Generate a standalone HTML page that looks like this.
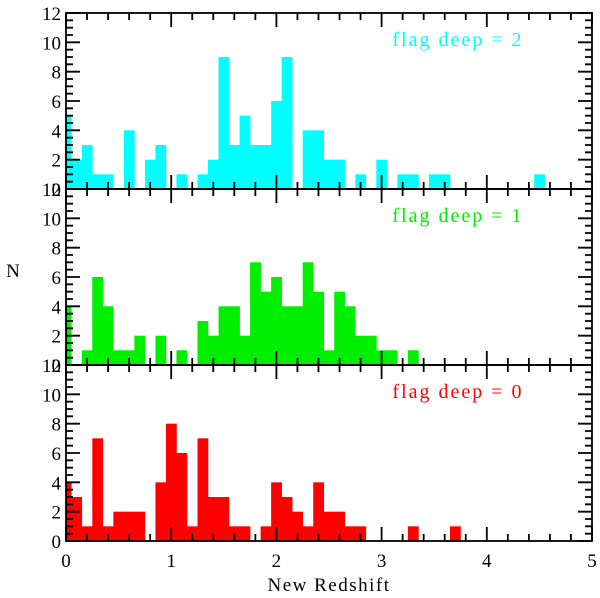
<!DOCTYPE html>
<html><head><meta charset="utf-8"><style>
html,body{margin:0;padding:0;background:#fff;}
svg{display:block;font-family:"Liberation Serif",serif;}
</style></head><body>
<svg id="chart" width="600" height="598" viewBox="0 0 600 598" xmlns="http://www.w3.org/2000/svg"></svg>
<script>
// bin centers at 0.0,0.1,...; bin width 0.1
const binWidth = 0.1;
const countsDeep2 = [5,2,3,1,1,0,4,0,2,3,0,1,0,1,2,9,3,5,3,3,6,9,0,4,4,2,2,0,1,0,2,0,1,1,0,1,1,0,0,0,0,0,0,0,0,1];
const countsDeep1 = [4,0,1,6,4,1,1,2,0,2,0,1,0,3,2,4,4,2,7,5,6,4,4,7,5,1,5,4,2,2,1,1,0,1];
const countsDeep0 = [4,3,1,7,1,2,2,2,0,4,8,6,1,7,3,3,1,1,0,1,4,3,2,1,4,2,2,1,1,0,0,0,0,1,0,0,0,1];
const panelLabels = ["flag deep = 2","flag deep = 1","flag deep = 0"];
const panelColors = ["#00ffff","#00ee00","#ff0000"];
const xTicks = [0,1,2,3,4,5];
const yTicks = [0,2,4,6,8,10,12];

const svg = document.getElementById('chart');
const NS = 'http://www.w3.org/2000/svg';
const L = 66, R = 592;
const panelTops = [13, 189, 365];
const PH = 176;
const xMax = 5, yMax = 12;
function xs(v){ return L + v/xMax*(R-L); }
function mk(tag, attrs, parent){
  const e = document.createElementNS(NS, tag);
  for (const k in attrs) e.setAttribute(k, attrs[k]);
  (parent||svg).appendChild(e);
  return e;
}
const allCounts = [countsDeep2, countsDeep1, countsDeep0];
allCounts.forEach((counts, p) => {
  const top = panelTops[p], bot = top + PH;
  const ys = v => bot - v/yMax*PH;
  const g = mk('g', {});
  
  
  counts.forEach((c, i) => {
    if (!c) return;
    const x0 = Math.max(0, i*binWidth - binWidth/2), x1 = i*binWidth + binWidth/2;
    const r = mk('rect', {x: xs(x0), y: ys(c), width: xs(x1)-xs(x0)+0.3, height: ys(0)-ys(c), fill: panelColors[p]}, g);
    
    
  });
  let d = '';
  for (let k = 0; k <= 25; k++) {
    const x = xs(k*0.2), len = (k%5===0) ? 14 : 7;
    d += `M${x},${bot}v${-len}M${x},${top}v${len}`;
  }
  for (let k = 0; k <= 24; k++) {
    const y = ys(k*0.5), len = (k%4===0) ? 14 : 7;
    d += `M${L},${y}h${len}M${R},${y}h${-len}`;
  }
  const t = mk('path', {d: d, stroke: '#000', 'stroke-width': 1.8, fill: 'none'}, g);
  
  
  const fr = mk('rect', {x: L, y: top, width: R-L, height: PH, fill: 'none', stroke: '#000', 'stroke-width': 1.8}, g);
  
  
  yTicks.forEach(v => {
    const tx = mk('text', {x: L-5, y: ys(v)+7, 'text-anchor': 'end', 'font-size': 19}, g);
    tx.textContent = v;
    
    
  });
  const lg = mk('text', {x: 458, y: top + 33, 'text-anchor': 'middle', 'font-size': 20, fill: panelColors[p], 'letter-spacing': 2}, g);
  lg.textContent = panelLabels[p];
  
  
});
xTicks.forEach(v => {
  const tx = mk('text', {x: xs(v), y: 567, 'text-anchor': 'middle', 'font-size': 19});
  tx.textContent = v;
  
  
});
const xt = mk('text', {x: 329, y: 591, 'text-anchor': 'middle', 'font-size': 19, 'letter-spacing': 1.5});
xt.textContent = 'New Redshift';


const yt = mk('text', {x: 13, y: 277, 'text-anchor': 'middle', 'font-size': 19});
yt.textContent = 'N';


</script>
</body></html>
